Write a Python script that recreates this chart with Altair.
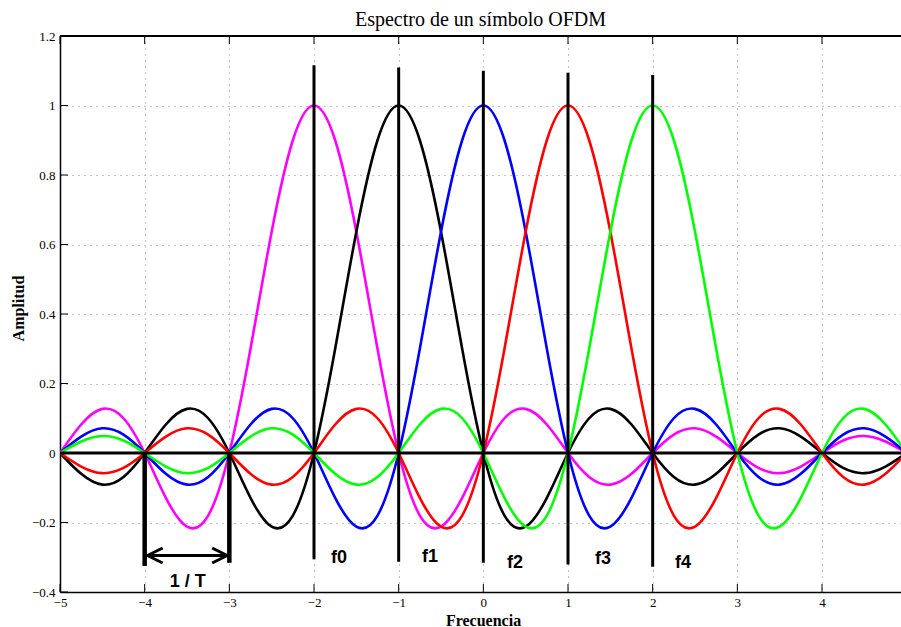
import altair as alt
import pandas as pd

# ---- data ----
centers = [-2, -1, 0, 1, 2]
series_names = ["f0", "f1", "f2", "f3", "f4"]
series_colors = ["#ff00ff", "#000000", "#0000ff", "#ff0000", "#00ff00"]

# one-sided lobe profile of each subcarrier spectrum, sampled every 0.25 in frequency
step = 0.25
profile = [1.0, 0.900, 0.637, 0.300, 0.0, -0.180, -0.212, -0.129, 0.0,
           0.100, 0.127, 0.082, 0.0, -0.069, -0.091, -0.060, 0.0,
           0.053, 0.071, 0.047, 0.0, -0.043, -0.058, -0.039, 0.0,
           0.036, 0.049, 0.033, 0.0]

# frequency grid (index k -> -5 + 0.25*k)
grid_n = 41

# carrier marker lines
carrier_top = [1.116, 1.109, 1.100, 1.094, 1.088]
carrier_bottom = [-0.306, -0.313, -0.316, -0.321, -0.327]

# carrier labels
label_x = [-1.705, -0.630, 0.374, 1.413, 2.358]
label_y = [-0.302, -0.300, -0.317, -0.305, -0.317]

# 1/T annotation
period_x = [-4, -3]
period_bottom = [-0.325, -0.316]
arrow_left, arrow_right, arrow_y = -3.965, -3.026, -0.295
period_label = "1 / T"
period_label_x, period_label_y = -3.49, -0.37

x_ticks = [-5, -4, -3, -2, -1, 0, 1, 2, 3, 4]
y_ticks = [-0.4, -0.2, 0, 0.2, 0.4, 0.6, 0.8, 1.0, 1.2]

# ---- tables ----
rows = []
for order, (name, c) in enumerate(zip(series_names, centers)):
    for k in range(grid_n):
        xv = -5 + step * k
        idx = int(round(abs(xv - c) / step))
        yv = profile[idx] if idx < len(profile) else 0.0
        rows.append({"x": xv, "y": yv, "s": name, "o": order})
curves = pd.DataFrame(rows)

carriers = pd.DataFrame({"x": centers, "top": carrier_top, "bot": carrier_bottom})
labels = pd.DataFrame({"x": label_x, "y": label_y, "t": series_names})
period = pd.DataFrame({"x": period_x, "y": [0, 0], "y2": period_bottom})
shaft = pd.DataFrame({"x": [arrow_left], "x2": [arrow_right], "y": [arrow_y]})
head_l = pd.DataFrame({"x": [arrow_left], "y": [arrow_y]})
head_r = pd.DataFrame({"x": [arrow_right], "y": [arrow_y]})
plabel = pd.DataFrame({"x": [period_label_x], "y": [period_label_y], "t": [period_label]})
zero = pd.DataFrame({"y": [0]})
xt = pd.DataFrame({"x": x_ticks})
yt = pd.DataFrame({"y": y_ticks})

W, H = 841, 556
SERIF = "Liberation Serif"
SANS = "Liberation Sans"

xscale = alt.Scale(domain=[-5, 4.933], nice=False, zero=False)
yscale = alt.Scale(domain=[-0.4, 1.2], nice=False, zero=False)

x_axis = alt.Axis(values=x_ticks, format="d", title="Frecuencia", ticks=False, labelPadding=4,
                  labelFont=SERIF, labelFontSize=13, labelColor="#000",
                  titleFont=SERIF, titleFontSize=16, titleFontWeight="bold", titleColor="#000",
                  titleX=423, titleY=28, titleBaseline="middle", titleAlign="center",
                  domainColor="#000", domainWidth=1.5,
                  grid=True, gridColor="#888", gridDash=[1, 5], gridWidth=1,
                  labelFlush=False)
y_axis = alt.Axis(values=y_ticks, format="~g", title="Amplitud", ticks=False, labelPadding=5,
                  labelFont=SERIF, labelFontSize=13, labelColor="#000",
                  titleFont=SERIF, titleFontSize=16, titleFontWeight="bold", titleColor="#000",
                  titleX=-42, titleY=272, titleAngle=270, titleBaseline="middle", titleAlign="center",
                  domainColor="#000", domainWidth=1.5,
                  grid=True, gridColor="#888", gridDash=[1, 5], gridWidth=1,
                  labelFlush=False)

curve_layer = alt.Chart(curves).mark_line(strokeWidth=2.6, interpolate="natural", clip=True).encode(
    x=alt.X("x:Q", scale=xscale, axis=x_axis),
    y=alt.Y("y:Q", scale=yscale, axis=y_axis),
    color=alt.Color("s:N", scale=alt.Scale(domain=series_names, range=series_colors), legend=None),
    order="o:Q",
)

zero_layer = alt.Chart(zero).mark_rule(color="#000", strokeWidth=3).encode(y="y:Q")

carrier_layer = alt.Chart(carriers).mark_rule(color="#000", strokeWidth=3).encode(
    x="x:Q", y="top:Q", y2="bot:Q")

label_layer = alt.Chart(labels).mark_text(font=SANS, fontSize=18, fontWeight="bold",
                                          color="#000", baseline="middle", align="center").encode(
    x="x:Q", y="y:Q", text="t:N")

period_layer = alt.Chart(period).mark_rule(color="#000", strokeWidth=4.5).encode(
    x="x:Q", y="y:Q", y2="y2:Q")

shaft_layer = alt.Chart(shaft).mark_rule(color="#000", strokeWidth=3).encode(
    x="x:Q", x2="x2:Q", y="y:Q")

head_l_layer = alt.Chart(head_l).mark_point(shape="M2,-1L0,0L2,1", filled=False, stroke="#000",
                                            strokeWidth=3, size=225, opacity=1).encode(x="x:Q", y="y:Q")
head_r_layer = alt.Chart(head_r).mark_point(shape="M-2,-1L0,0L-2,1", filled=False, stroke="#000",
                                            strokeWidth=3, size=225, opacity=1).encode(x="x:Q", y="y:Q")

plabel_layer = alt.Chart(plabel).mark_text(font=SANS, fontSize=18, fontWeight="bold",
                                           color="#000", baseline="middle", align="center").encode(
    x="x:Q", y="y:Q", text="t:N")

# inward tick marks and top box line
top_line = alt.Chart(zero).mark_rule(color="#000", strokeWidth=2).encode(
    x=alt.value(0), x2=alt.value(W), y=alt.value(0))
xt_bottom = alt.Chart(xt).mark_rule(color="#000", strokeWidth=1).encode(
    x="x:Q", y=alt.value(H), y2=alt.value(H - 8))
xt_top = alt.Chart(xt).mark_rule(color="#000", strokeWidth=1).encode(
    x="x:Q", y=alt.value(0), y2=alt.value(8))
yt_left = alt.Chart(yt).mark_rule(color="#000", strokeWidth=1).encode(
    y="y:Q", x=alt.value(0), x2=alt.value(8))

chart = alt.layer(
    curve_layer, zero_layer, carrier_layer, label_layer,
    period_layer, shaft_layer, head_l_layer, head_r_layer, plabel_layer,
    top_line, xt_bottom, xt_top, yt_left,
).properties(
    width=W, height=H,
    title=alt.TitleParams("Espectro de un símbolo OFDM", font=SERIF, fontSize=20,
                          fontWeight="normal", color="#000", offset=0, anchor="middle",
                          frame="group"),
    autosize=alt.AutoSizeParams(type="none"),
    padding={"left": 60, "top": 36, "right": 0, "bottom": 35},
).configure_view(stroke=None).configure(background="white")

chart.save("out.html", embed_options={"renderer": "svg", "actions": False})
